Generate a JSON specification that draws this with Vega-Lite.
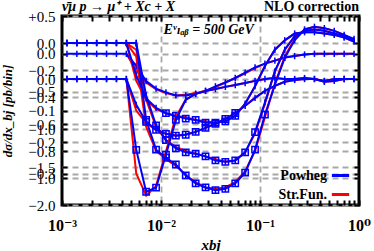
{
  "$schema": "https://vega.github.io/schema/vega-lite/v6.json",
  "width": 297,
  "height": 189,
  "autosize": {"type": "none"},
  "padding": {"left": 62, "top": 16, "right": 15, "bottom": 46},
  "background": "white",
  "config": {
    "view": {"stroke": "black", "strokeWidth": 3},
    "font": "Liberation Serif",
    "axis": {"domain": false, "labelFont": "Liberation Serif, DejaVu Serif", "labelColor": "black", "tickColor": "black", "gridColor": "#a8a8a8", "gridDash": [6, 4], "gridWidth": 1.8, "titleColor": "black", "labelFlush": false, "labelBound": false, "labelOverlap": false},
    "legend": {"orient": "none", "legendX": 268, "legendY": 149, "title": null, "symbolType": "stroke", "symbolStrokeWidth": 3, "symbolSize": 300, "labelAlign": "right", "labelOffset": -24, "labelFontSize": 14, "labelFontWeight": "bold", "labelFont": "Liberation Serif", "labelColor": "black", "rowPadding": 1, "padding": 0}
  },
  "datasets": {
    "panelC": [
      {"x":0.001122,"c":"c1","p":0},{"x":0.001413,"c":"c1","p":0},{"x":0.001778,"c":"c1","p":0},{"x":0.002239,"c":"c1","p":0},{"x":0.002818,"c":"c1","p":0},{"x":0.003548,"c":"c1","p":0},
      {"x":0.004467,"c":"c1","p":0,"s":0},{"x":0.005623,"c":"c1","p":-0.16,"s":-0.22},{"x":0.007079,"c":"c1","p":-0.36,"s":-0.38},{"x":0.008913,"c":"c1","p":-0.46,"s":-0.47},
      {"x":0.01122,"c":"c1","p":-0.51,"s":-0.52},{"x":0.01413,"c":"c1","p":-0.55,"s":-0.55},{"x":0.01778,"c":"c1","p":-0.55,"s":-0.54},{"x":0.02239,"c":"c1","p":-0.53,"s":-0.52},
      {"x":0.02818,"c":"c1","p":-0.49,"s":-0.49},{"x":0.03548,"c":"c1","p":-0.43,"s":-0.44},{"x":0.04467,"c":"c1","p":-0.38,"s":-0.38},{"x":0.05623,"c":"c1","p":-0.32,"s":-0.32},
      {"x":0.07079,"c":"c1","p":-0.25,"s":-0.26},{"x":0.08913,"c":"c1","p":-0.18,"s":-0.19},{"x":0.1122,"c":"c1","p":-0.13,"s":-0.13},{"x":0.1413,"c":"c1","p":-0.09,"s":-0.09},
      {"x":0.1778,"c":"c1","p":-0.05,"s":-0.05},{"x":0.2239,"c":"c1","p":-0.03,"s":-0.03},{"x":0.2818,"c":"c1","p":-0.01,"s":-0.01},{"x":0.3548,"c":"c1","p":0,"s":0},
      {"x":0.4467,"c":"c1","p":0,"s":0},{"x":0.5623,"c":"c1","p":0,"s":0},{"x":0.7079,"c":"c1","p":0,"s":0},{"x":0.8913,"c":"c1","p":0,"s":0}
    ],
    "panelA": [
      {"x":0.001122,"c":"a1","p":0},{"x":0.001413,"c":"a1","p":0},{"x":0.001778,"c":"a1","p":0},{"x":0.002239,"c":"a1","p":0},{"x":0.002818,"c":"a1","p":0},{"x":0.003548,"c":"a1","p":0},
      {"x":0.004467,"c":"a1","p":0,"s":0},{"x":0.005623,"c":"a1","p":0,"s":-0.10},{"x":0.007079,"c":"a1","p":-0.57,"s":-0.62},{"x":0.008913,"c":"a1","p":-0.79,"s":-0.80},
      {"x":0.01122,"c":"a1","p":-0.85,"s":-0.86},{"x":0.01413,"c":"a1","p":-0.90,"s":-0.91},{"x":0.01778,"c":"a1","p":-0.98,"s":-0.98},{"x":0.02239,"c":"a1","p":-1.04,"s":-1.03},
      {"x":0.02818,"c":"a1","p":-1.07,"s":-1.07},{"x":0.03548,"c":"a1","p":-1.09,"s":-1.08},{"x":0.04467,"c":"a1","p":-1.08,"s":-1.07},{"x":0.05623,"c":"a1","p":-1.04,"s":-1.03},
      {"x":0.07079,"c":"a1","p":-0.96,"s":-0.95},{"x":0.08913,"c":"a1","p":-0.79,"s":-0.80},{"x":0.1122,"c":"a1","p":-0.53,"s":-0.55},{"x":0.1413,"c":"a1","p":-0.31,"s":-0.30},
      {"x":0.1778,"c":"a1","p":-0.11,"s":-0.10},{"x":0.2239,"c":"a1","p":0.02,"s":0.03},{"x":0.2818,"c":"a1","p":0.10,"s":0.10},{"x":0.3548,"c":"a1","p":0.12,"s":0.12},
      {"x":0.4467,"c":"a1","p":0.11,"s":0.11},{"x":0.5623,"c":"a1","p":0.09,"s":0.09},{"x":0.7079,"c":"a1","p":0.06,"s":0.06},{"x":0.8913,"c":"a1","p":0.03,"s":0.02},

      {"x":0.001122,"c":"a2","p":0},{"x":0.001413,"c":"a2","p":0},{"x":0.001778,"c":"a2","p":0},{"x":0.002239,"c":"a2","p":0},{"x":0.002818,"c":"a2","p":0},{"x":0.003548,"c":"a2","p":0},
      {"x":0.004467,"c":"a2","p":0,"s":0},{"x":0.005623,"c":"a2","p":0,"s":-0.05},{"x":0.007079,"c":"a2","p":-0.39,"s":-0.42},{"x":0.008913,"c":"a2","p":-0.61,"s":-0.62},
      {"x":0.01122,"c":"a2","p":-0.72,"s":-0.72},{"x":0.01413,"c":"a2","p":-0.78,"s":-0.77},{"x":0.01778,"c":"a2","p":-0.81,"s":-0.80},{"x":0.02239,"c":"a2","p":-0.82,"s":-0.82},
      {"x":0.02818,"c":"a2","p":-0.84,"s":-0.84},{"x":0.03548,"c":"a2","p":-0.87,"s":-0.86},{"x":0.04467,"c":"a2","p":-0.88,"s":-0.88},{"x":0.05623,"c":"a2","p":-0.87,"s":-0.87},
      {"x":0.07079,"c":"a2","p":-0.81,"s":-0.81},{"x":0.08913,"c":"a2","p":-0.66,"s":-0.67},{"x":0.1122,"c":"a2","p":-0.44,"s":-0.45},{"x":0.1413,"c":"a2","p":-0.21,"s":-0.21},
      {"x":0.1778,"c":"a2","p":-0.05,"s":-0.05},{"x":0.2239,"c":"a2","p":0.05,"s":0.05},{"x":0.2818,"c":"a2","p":0.09,"s":0.09},{"x":0.3548,"c":"a2","p":0.10,"s":0.10},
      {"x":0.4467,"c":"a2","p":0.09,"s":0.09},{"x":0.5623,"c":"a2","p":0.07,"s":0.07},{"x":0.7079,"c":"a2","p":0.05,"s":0.05},{"x":0.8913,"c":"a2","p":0.02,"s":0.02},

      {"x":0.001122,"c":"a3","p":0},{"x":0.001413,"c":"a3","p":0},{"x":0.001778,"c":"a3","p":0},{"x":0.002239,"c":"a3","p":0},{"x":0.002818,"c":"a3","p":0},{"x":0.003548,"c":"a3","p":0},
      {"x":0.004467,"c":"a3","p":0,"s":0},{"x":0.005623,"c":"a3","p":-0.24,"s":-0.28},{"x":0.007079,"c":"a3","p":-0.41,"s":-0.42},{"x":0.008913,"c":"a3","p":-0.48,"s":-0.49},
      {"x":0.01122,"c":"a3","p":-0.52,"s":-0.52},{"x":0.01413,"c":"a3","p":-0.54,"s":-0.54},{"x":0.01778,"c":"a3","p":-0.56,"s":-0.55},{"x":0.02239,"c":"a3","p":-0.57,"s":-0.57},
      {"x":0.02818,"c":"a3","p":-0.59,"s":-0.58},{"x":0.03548,"c":"a3","p":-0.59,"s":-0.59},{"x":0.04467,"c":"a3","p":-0.58,"s":-0.58},{"x":0.05623,"c":"a3","p":-0.54,"s":-0.54},
      {"x":0.07079,"c":"a3","p":-0.45,"s":-0.45},{"x":0.08913,"c":"a3","p":-0.32,"s":-0.32},{"x":0.1122,"c":"a3","p":-0.17,"s":-0.17},{"x":0.1413,"c":"a3","p":-0.05,"s":-0.05},
      {"x":0.1778,"c":"a3","p":0.02,"s":0.02},{"x":0.2239,"c":"a3","p":0.07,"s":0.07},{"x":0.2818,"c":"a3","p":0.08,"s":0.08},{"x":0.3548,"c":"a3","p":0.08,"s":0.08},
      {"x":0.4467,"c":"a3","p":0.07,"s":0.07},{"x":0.5623,"c":"a3","p":0.06,"s":0.06},{"x":0.7079,"c":"a3","p":0.04,"s":0.04},{"x":0.8913,"c":"a3","p":0.01,"s":0.01}
    ],
    "panelB": [
      {"x":0.001122,"c":"b1","p":0},{"x":0.001413,"c":"b1","p":0},{"x":0.001778,"c":"b1","p":0},{"x":0.002239,"c":"b1","p":0},{"x":0.002818,"c":"b1","p":0},{"x":0.003548,"c":"b1","p":0},
      {"x":0.004467,"c":"b1","p":0,"s":0},{"x":0.005623,"c":"b1","p":-0.225,"s":-0.30},{"x":0.007079,"c":"b1","p":-0.358,"s":-0.37},{"x":0.008913,"c":"b1","p":-0.345,"s":-0.34},
      {"x":0.01122,"c":"b1","p":-0.24,"s":-0.23},{"x":0.01413,"c":"b1","p":-0.13,"s":-0.12},{"x":0.01778,"c":"b1","p":-0.066,"s":-0.065},{"x":0.02239,"c":"b1","p":-0.047,"s":-0.047},
      {"x":0.02818,"c":"b1","p":-0.038,"s":-0.038},{"x":0.03548,"c":"b1","p":-0.032,"s":-0.032},{"x":0.04467,"c":"b1","p":-0.025,"s":-0.025},{"x":0.05623,"c":"b1","p":-0.019,"s":-0.019},
      {"x":0.07079,"c":"b1","p":-0.013,"s":-0.013},{"x":0.08913,"c":"b1","p":-0.006,"s":-0.006},{"x":0.1122,"c":"b1","p":0,"s":0},{"x":0.1413,"c":"b1","p":0.003,"s":0.003},
      {"x":0.1778,"c":"b1","p":0,"s":0},{"x":0.2239,"c":"b1","p":0,"s":0},{"x":0.2818,"c":"b1","p":0.003,"s":0.003},{"x":0.3548,"c":"b1","p":0,"s":0},
      {"x":0.4467,"c":"b1","p":-0.009,"s":-0.009},{"x":0.5623,"c":"b1","p":-0.006,"s":-0.006},{"x":0.7079,"c":"b1","p":0,"s":0},{"x":0.8913,"c":"b1","p":0,"s":0},

      {"x":0.001122,"c":"b2","p":0},{"x":0.001413,"c":"b2","p":0},{"x":0.001778,"c":"b2","p":0},{"x":0.002239,"c":"b2","p":0},{"x":0.002818,"c":"b2","p":0},{"x":0.003548,"c":"b2","p":0},
      {"x":0.004467,"c":"b2","p":0,"s":0},{"x":0.005623,"c":"b2","p":-0.082,"s":-0.10},{"x":0.007079,"c":"b2","p":-0.136,"s":-0.14},{"x":0.008913,"c":"b2","p":-0.161,"s":-0.162},
      {"x":0.01122,"c":"b2","p":-0.174,"s":-0.174},{"x":0.01413,"c":"b2","p":-0.18,"s":-0.179},{"x":0.01778,"c":"b2","p":-0.177,"s":-0.176},{"x":0.02239,"c":"b2","p":-0.168,"s":-0.168},
      {"x":0.02818,"c":"b2","p":-0.155,"s":-0.155},{"x":0.03548,"c":"b2","p":-0.142,"s":-0.142},{"x":0.04467,"c":"b2","p":-0.127,"s":-0.127},{"x":0.05623,"c":"b2","p":-0.108,"s":-0.108},
      {"x":0.07079,"c":"b2","p":-0.085,"s":-0.085},{"x":0.08913,"c":"b2","p":-0.06,"s":-0.06},{"x":0.1122,"c":"b2","p":-0.038,"s":-0.038},{"x":0.1413,"c":"b2","p":-0.022,"s":-0.022},
      {"x":0.1778,"c":"b2","p":-0.009,"s":-0.009},{"x":0.2239,"c":"b2","p":-0.003,"s":-0.003},{"x":0.2818,"c":"b2","p":0,"s":0},{"x":0.3548,"c":"b2","p":0,"s":0},
      {"x":0.4467,"c":"b2","p":-0.006,"s":-0.006},{"x":0.5623,"c":"b2","p":0,"s":0},{"x":0.7079,"c":"b2","p":0,"s":0},{"x":0.8913,"c":"b2","p":0,"s":0}
    ]
  },
  "layer": [
    {
      "data": {"name": "panelC"},
      "encoding": {
        "x": {"field": "x", "type": "quantitative", "scale": {"type": "log", "domain": [0.001, 1], "nice": false},
          "axis": {"values": [0.001,0.002,0.003,0.004,0.005,0.006,0.007,0.008,0.009,0.01,0.02,0.03,0.04,0.05,0.06,0.07,0.08,0.09,0.1,0.2,0.3,0.4,0.5,0.6,0.7,0.8,0.9,1],
            "labelExpr": "datum.value==0.001?'10⁻³':datum.value==0.01?'10⁻²':datum.value==0.1?'10⁻¹':datum.value==1?'10⁰':''",
            "title": "xbj", "grid": true,
            "gridOpacity": {"condition": {"test": "datum.value==0.01||datum.value==0.1", "value": 1}, "value": 0},
            "tickSize": -5, "tickWidth": 2, "labelFontSize": 16, "labelFontWeight": "bold", "labelPadding": 17,
            "titleFont": "Liberation Serif", "titleFontStyle": "italic", "titleFontWeight": "bold", "titleFontSize": 15, "titlePadding": 4}},
        "y": {"field": "p", "type": "quantitative", "scale": {"domain": [-2, 0.5], "nice": false, "zero": false},
          "axis": {"orient": "left", "values": [0.5, 0, -0.5, -1, -1.5, -2], "format": ".1f", "labelExpr": "datum.value > 0 ? '+' + datum.label : datum.label",
            "title": "dσ/dx_bj [pb/bin]", "grid": true, "tickSize": -5, "tickWidth": 2, "labelFontSize": 15, "labelPadding": 12,
            "titleFont": "Liberation Serif", "titleFontStyle": "italic", "titleFontWeight": "bold", "titleFontSize": 13, "titlePadding": 13}}
      },
      "layer": [
        {"mark": {"type": "line", "strokeWidth": 2},
         "encoding": {"y": {"field": "s", "type": "quantitative", "scale": {"domain": [-2, 0.5], "nice": false, "zero": false}},
           "detail": {"field": "c"},
           "color": {"datum": "Str.Fun.", "scale": {"domain": ["Powheg", "Str.Fun."], "range": ["#0000ff", "#ff0000"]}}}},
        {"mark": {"type": "line", "strokeWidth": 2},
         "encoding": {"detail": {"field": "c"},
           "color": {"datum": "Powheg", "scale": {"domain": ["Powheg", "Str.Fun."], "range": ["#0000ff", "#ff0000"]}}}},
        {"mark": {"type": "point", "filled": false, "stroke": "#0000ff", "strokeWidth": 1.5, "size": 40, "opacity": 1},
         "encoding": {"shape": {"condition": {"test": "datum.p < -0.75", "value": "M-1,-1H1V1H-1ZM0,-1V1"}, "value": "M0,-1V1"}}},
        {"data": {"values": [{"x": 0.001, "y": 0.5, "t": "ν̄μ p → μ⁺ + Xc + X"}]},
         "mark": {"type": "text", "align": "left", "baseline": "bottom", "dy": -2, "fontSize": 14, "fontStyle": "italic", "fontWeight": "bold", "font": "Liberation Serif"},
         "encoding": {"y": {"field": "y", "type": "quantitative", "scale": {"domain": [-2, 0.5], "nice": false, "zero": false}}, "text": {"field": "t"}}},
        {"data": {"values": [{"x": 1, "y": 0.5, "t": "NLO correction"}]},
         "mark": {"type": "text", "align": "right", "baseline": "bottom", "dy": -2, "fontSize": 14, "fontWeight": "bold", "font": "Liberation Serif"},
         "encoding": {"y": {"field": "y", "type": "quantitative", "scale": {"domain": [-2, 0.5], "nice": false, "zero": false}}, "text": {"field": "t"}}},
        {"data": {"values": [{"x": 0.0303, "y": 0.315, "t": "Eᵛₗₐᵦ = 500 GeV"}]},
         "mark": {"type": "text", "align": "center", "baseline": "middle", "fontSize": 14, "fontStyle": "italic", "fontWeight": "bold", "font": "Liberation Serif, DejaVu Serif"},
         "encoding": {"y": {"field": "y", "type": "quantitative", "scale": {"domain": [-2, 0.5], "nice": false, "zero": false}}, "text": {"field": "t"}}}
      ]
    },
    {
      "data": {"name": "panelA"},
      "encoding": {
        "x": {"field": "x", "type": "quantitative", "scale": {"type": "log", "domain": [0.001, 1], "nice": false}, "axis": null},
        "y": {"field": "p", "type": "quantitative", "scale": {"domain": [-1.2, 0.2], "nice": false, "zero": false},
          "axis": {"orient": "left", "values": [0, -0.2, -0.4, -0.6, -0.8, -1.0], "format": ".1f", "title": null, "grid": true, "tickSize": -5, "tickWidth": 2, "labelFontSize": 15, "labelPadding": 12}}
      },
      "layer": [
        {"mark": {"type": "line", "strokeWidth": 2},
         "encoding": {"y": {"field": "s", "type": "quantitative", "scale": {"domain": [-1.2, 0.2], "nice": false, "zero": false}},
           "detail": {"field": "c"}, "color": {"datum": "Str.Fun."}}},
        {"mark": {"type": "line", "strokeWidth": 2},
         "encoding": {"detail": {"field": "c"}, "color": {"datum": "Powheg"}}},
        {"mark": {"type": "point", "filled": false, "stroke": "#0000ff", "strokeWidth": 1.5, "size": 40, "opacity": 1},
         "encoding": {"shape": {"condition": {"test": "datum.p < -0.5", "value": "M-1,-1H1V1H-1ZM0,-1V1"}, "value": "M0,-1V1"}}}
      ]
    },
    {
      "data": {"name": "panelB"},
      "encoding": {
        "x": {"field": "x", "type": "quantitative", "scale": {"type": "log", "domain": [0.001, 1], "nice": false}, "axis": null},
        "y": {"field": "p", "type": "quantitative", "scale": {"domain": [-0.4, 0.2], "nice": false, "zero": false},
          "axis": {"orient": "left", "values": [0, -0.1, -0.2, -0.3], "format": ".1f", "title": null, "grid": true, "tickSize": -5, "tickWidth": 2, "labelFontSize": 15, "labelPadding": 12}}
      },
      "layer": [
        {"mark": {"type": "line", "strokeWidth": 2},
         "encoding": {"y": {"field": "s", "type": "quantitative", "scale": {"domain": [-0.4, 0.2], "nice": false, "zero": false}},
           "detail": {"field": "c"}, "color": {"datum": "Str.Fun."}}},
        {"mark": {"type": "line", "strokeWidth": 2},
         "encoding": {"detail": {"field": "c"}, "color": {"datum": "Powheg"}}},
        {"mark": {"type": "point", "filled": false, "stroke": "#0000ff", "strokeWidth": 1.5, "size": 40, "opacity": 1},
         "encoding": {"shape": {"condition": {"test": "datum.p < -0.1", "value": "M-1,-1H1V1H-1ZM0,-1V1"}, "value": "M0,-1V1"}}}
      ]
    },
    {
      "data": {"name": "panelC"},
      "mark": {"type": "point", "opacity": 0},
      "encoding": {
        "x": {"field": "x", "type": "quantitative", "scale": {"type": "log", "domain": [0.001, 1], "nice": false},
          "axis": {"orient": "top", "values": [0.001,0.002,0.003,0.004,0.005,0.006,0.007,0.008,0.009,0.01,0.02,0.03,0.04,0.05,0.06,0.07,0.08,0.09,0.1,0.2,0.3,0.4,0.5,0.6,0.7,0.8,0.9,1],
            "labels": false, "title": null, "grid": false, "tickSize": -5, "tickWidth": 2}},
        "y": {"field": "p", "type": "quantitative", "scale": {"domain": [-2, 0.5], "nice": false, "zero": false},
          "axis": {"orient": "right", "values": [0.5, 0, -0.5, -1, -1.5, -2], "labels": false, "title": null, "grid": false, "tickSize": -5, "tickWidth": 2}}
      }
    },
    {
      "data": {"name": "panelA"},
      "mark": {"type": "point", "opacity": 0},
      "encoding": {
        "x": {"field": "x", "type": "quantitative", "scale": {"type": "log", "domain": [0.001, 1], "nice": false}, "axis": null},
        "y": {"field": "p", "type": "quantitative", "scale": {"domain": [-1.2, 0.2], "nice": false, "zero": false},
          "axis": {"orient": "right", "values": [0, -0.2, -0.4, -0.6, -0.8, -1.0], "labels": false, "title": null, "grid": false, "tickSize": -5, "tickWidth": 2}}
      }
    },
    {
      "data": {"name": "panelB"},
      "mark": {"type": "point", "opacity": 0},
      "encoding": {
        "x": {"field": "x", "type": "quantitative", "scale": {"type": "log", "domain": [0.001, 1], "nice": false}, "axis": null},
        "y": {"field": "p", "type": "quantitative", "scale": {"domain": [-0.4, 0.2], "nice": false, "zero": false},
          "axis": {"orient": "right", "values": [0, -0.1, -0.2, -0.3], "labels": false, "title": null, "grid": false, "tickSize": -5, "tickWidth": 2}}
      }
    }
  ],
  "resolve": {"scale": {"x": "independent", "y": "independent"}, "axis": {"x": "independent", "y": "independent"}}
}
